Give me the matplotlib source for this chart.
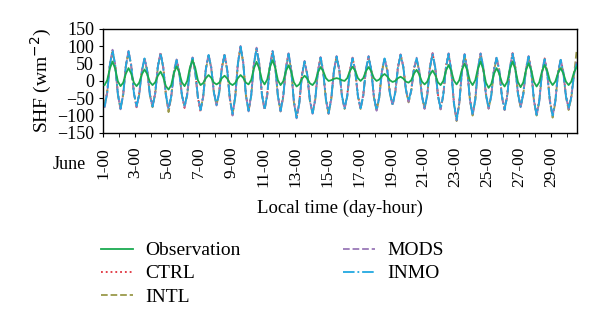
import matplotlib
matplotlib.use("Agg")
import matplotlib.pyplot as plt
import numpy as np

plt.rcParams['font.family'] = ['Liberation Serif', 'DejaVu Serif']

# sampling: hours of each day (local time), June 1 .. June 30 (last day partial)
hours = [2, 6, 10, 14, 18, 22]
n_days = 30
t = [d + h / 24 for d in range(n_days) for h in hours][:-2]

# SHF (W m-2), one row per day
observation = [
    -12, 2, 36, 56, 35, -1,
    -15, -5, 21, 37, 21, -5,
    -15, -5, 19, 33, 20, -3,
    -12, -4, 15, 27, 11, -15,
    -25, -12, 22, 42, 25, -4,
    -15, 0, 38, 60, 38, 2,
    -12, -6, 8, 17, 9, -5,
    -10, -5, 8, 15, 7, -7,
    -12, -6, 8, 17, 9, -5,
    -10, 3, 36, 55, 36, 3,
    -10, 4, 39, 60, 38, 2,
    -12, -1, 28, 45, 27, -4,
    -16, -10, 6, 15, 7, -7,
    -12, -2, 24, 40, 28, 8,
    0, 2, 6, 8, 6, 2,
    0, 8, 29, 41, 29, 8,
    0, 8, 28, 40, 28, 8,
    0, 4, 14, 20, 13, 2,
    -3, 0, 8, 12, 7, -2,
    -5, 2, 21, 32, 19, -2,
    -10, -2, 18, 30, 17, -4,
    -12, 0, 29, 46, 29, 1,
    -10, 2, 32, 50, 31, 0,
    -12, 2, 36, 56, 33, -5,
    -20, -9, 20, 37, 21, -5,
    -16, -2, 34, 56, 34, -3,
    -18, -4, 30, 51, 31, -3,
    -16, -4, 27, 46, 29, 0,
    -12, -2, 22, 37, 22, -2,
    -12, -2, 24, 40,
]

ctrl = [
    -72, -30, 50, 86, 48, -36,
    -78, -36, 47, 84, 47, -31,
    -76, -35, 33, 62, 32, -37,
    -72, -33, 45, 78, 43, -37,
    -84, -42, 28, 63, 29, -38,
    -78, -36, 34, 68, 30, -48,
    -90, -42, 38, 74, 41, -31,
    -66, -30, 42, 77, 35, -50,
    -98, -43, 53, 101, 55, -38,
    -84, -38, 52, 92, 52, -36,
    -80, -37, 46, 87, 44, -41,
    -84, -42, 40, 80, 34, -58,
    -104, -63, 19, 58, 21, -54,
    -91, -50, 30, 69, 30, -50,
    -90, -49, 32, 72, 35, -40,
    -76, -40, 32, 67, 31, -41,
    -77, -39, 36, 72, 34, -44,
    -82, -44, 31, 63, 34, -34,
    -70, -30, 42, 77, 44, -23,
    -62, -24, 37, 63, 31, -40,
    -82, -37, 42, 80, 40, -39,
    -78, -38, 42, 80, 32, -62,
    -108, -62, 32, 78, 35, -51,
    -96, -51, 37, 80, 41, -36,
    -76, -39, 34, 69, 32, -42,
    -80, -39, 41, 80, 42, -33,
    -72, -35, 37, 72, 30, -53,
    -96, -55, 26, 65, 24, -56,
    -98, -57, 24, 63, 28, -42,
    -76, -44, 21, 52,
]

intl = [
    -70, -32, 45, 84, 44, -40,
    -82, -40, 42, 82, 43, -36,
    -72, -40, 28, 63, 28, -41,
    -76, -37, 40, 78, 38, -42,
    -90, -47, 23, 58, 24, -42,
    -72, -41, 29, 64, 26, -48,
    -82, -46, 33, 73, 37, -35,
    -70, -35, 37, 73, 30, -54,
    -93, -48, 48, 97, 51, -42,
    -88, -43, 47, 92, 48, -40,
    -84, -42, 41, 83, 40, -45,
    -88, -47, 35, 76, 30, -62,
    -102, -64, 14, 54, 17, -58,
    -95, -55, 25, 65, 25, -55,
    -95, -54, 27, 68, 31, -44,
    -81, -45, 27, 63, 27, -45,
    -81, -44, 31, 68, 30, -48,
    -86, -49, 26, 63, 30, -38,
    -67, -35, 37, 73, 40, -27,
    -62, -29, 32, 63, 27, -45,
    -77, -42, 37, 76, 36, -43,
    -82, -43, 37, 76, 28, -66,
    -116, -67, 27, 74, 30, -56,
    -100, -56, 32, 76, 37, -41,
    -80, -44, 29, 65, 28, -47,
    -84, -44, 36, 76, 38, -38,
    -76, -40, 32, 68, 26, -58,
    -100, -60, 21, 61, 20, -61,
    -106, -62, 19, 59, 24, -46,
    -84, -49, 16, 88,
]

mods = [
    -78, -36, 46, 90, 45, -39,
    -82, -40, 43, 87, 44, -35,
    -75, -40, 29, 67, 29, -40,
    -75, -37, 41, 82, 39, -41,
    -82, -46, 24, 62, 25, -41,
    -75, -40, 30, 68, 27, -47,
    -86, -45, 34, 77, 38, -34,
    -71, -34, 38, 77, 31, -53,
    -100, -47, 49, 101, 52, -41,
    -88, -42, 48, 96, 49, -39,
    -84, -41, 42, 87, 41, -44,
    -88, -46, 36, 80, 31, -61,
    -108, -67, 15, 58, 18, -57,
    -95, -54, 26, 69, 26, -54,
    -95, -53, 28, 72, 32, -43,
    -81, -44, 28, 67, 28, -44,
    -81, -43, 32, 72, 31, -47,
    -86, -48, 27, 67, 31, -37,
    -71, -34, 38, 77, 41, -26,
    -60, -28, 33, 67, 28, -44,
    -81, -41, 38, 80, 37, -42,
    -82, -42, 38, 80, 29, -65,
    -114, -66, 28, 78, 31, -55,
    -100, -55, 33, 80, 38, -40,
    -80, -43, 30, 69, 29, -46,
    -84, -43, 37, 80, 39, -37,
    -76, -39, 33, 72, 27, -57,
    -100, -59, 22, 65, 21, -60,
    -102, -61, 20, 63, 25, -45,
    -81, -48, 17, 55,
]

inmo = [
    -75, -34, 47, 88, 46, -38,
    -80, -39, 44, 85, 45, -34,
    -74, -39, 30, 65, 30, -39,
    -74, -36, 42, 80, 40, -40,
    -80, -45, 25, 60, 26, -40,
    -74, -39, 31, 66, 28, -46,
    -84, -44, 35, 75, 39, -33,
    -69, -33, 39, 75, 32, -52,
    -95, -46, 50, 99, 53, -40,
    -86, -41, 49, 94, 50, -38,
    -82, -40, 43, 85, 42, -43,
    -86, -45, 37, 78, 32, -60,
    -106, -66, 16, 56, 19, -56,
    -93, -53, 27, 67, 27, -53,
    -93, -52, 29, 70, 33, -42,
    -79, -43, 29, 65, 29, -43,
    -79, -42, 33, 70, 32, -46,
    -84, -47, 28, 65, 32, -36,
    -69, -33, 39, 75, 42, -25,
    -58, -27, 34, 65, 29, -43,
    -79, -40, 39, 78, 38, -41,
    -80, -41, 39, 78, 30, -64,
    -112, -65, 29, 76, 32, -54,
    -98, -54, 34, 78, 39, -39,
    -78, -42, 31, 67, 30, -45,
    -82, -42, 38, 78, 40, -36,
    -74, -38, 34, 70, 28, -56,
    -98, -58, 23, 63, 22, -59,
    -100, -60, 21, 61, 26, -44,
    -79, -47, 18, 50,
]

tick_days = list(range(0, 29, 2))
tick_labels = ["%d-00" % (d + 1) for d in tick_days]

fig = plt.figure(figsize=(6, 3.25), dpi=100)
ax = fig.add_axes([0.172, 0.591, 0.79, 0.32])

lw = 1.3
ax.plot(t, ctrl, color="#e0303c", linestyle=":", lw=lw, label="CTRL")
ax.plot(t, intl, color="#9a9a4a", linestyle="--", lw=lw, label="INTL")
ax.plot(t, mods, color="#9a78b8", linestyle="--", lw=lw, label="MODS")
ax.plot(t, inmo, color="#22a8e0", linestyle="-.", lw=lw, label="INMO")
ax.plot(t, observation, color="#1aaa50", linestyle="-", lw=lw, label="Observation", zorder=5)

ax.set_xlim(0, 29.62)
ax.set_ylim(-150, 150)
ax.set_yticks(np.arange(-150, 151, 50))
ax.set_xticks(tick_days)
ax.set_xticklabels(tick_labels, rotation=90)
ax.set_xticks(range(0, 30), minor=True)
ax.tick_params(axis="both", which="both", direction="out", length=3, labelsize=13)
ax.tick_params(axis="x", which="major", pad=7)
ax.tick_params(axis="x", labelsize=12.5)
for s in ax.spines.values():
    s.set_linewidth(1.0)

ax.set_ylabel("SHF (wm$^{-2}$)", fontsize=14, labelpad=2)
ax.set_xlabel("Local time (day-hour)", fontsize=13.5, labelpad=9)
fig.text(0.088, 0.493, "June", fontsize=13, ha="left", va="center")

handles, labels = ax.get_legend_handles_labels()
order = [4, 0, 1, 2, 3]
fig.legend([handles[i] for i in order], [labels[i] for i in order],
           loc="upper left", bbox_to_anchor=(0.168, 0.256), ncol=2,
           frameon=False, fontsize=14, handlelength=1.65, handletextpad=0.62,
           labelspacing=0.28, columnspacing=5.3, borderpad=0, borderaxespad=0)

fig.savefig("out.png", dpi=100)
